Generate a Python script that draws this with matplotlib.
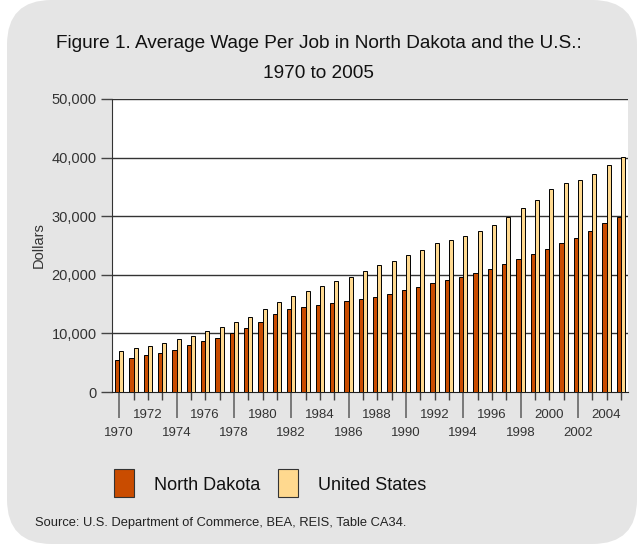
import matplotlib
matplotlib.use('Agg')
import matplotlib.pyplot as plt
from matplotlib.patches import FancyBboxPatch, Rectangle
import numpy as np

# Data
years = list(range(1970, 2006))
north_dakota = [5400, 5850, 6300, 6700, 7220, 7950, 8640, 9260, 10000, 10970,
                11930, 13240, 14090, 14430, 14770, 15110, 15450, 15800, 16190, 16650,
                17330, 17900, 18580, 19030, 19600, 20280, 20970, 21760, 22670, 23470,
                24380, 25400, 26310, 27440, 28810, 29890]
united_states = [6990, 7440, 7840, 8350, 8980, 9600, 10340, 11020, 11880, 12840,
                 14090, 15340, 16310, 17160, 18010, 18860, 19660, 20570, 21590, 22270,
                 23350, 24260, 25510, 25970, 26590, 27500, 28580, 29890, 31480, 32840,
                 34720, 35630, 36190, 37220, 38810, 40170]
yticks = [0, 10000, 20000, 30000, 40000, 50000]
lower_years = list(range(1970, 2006, 4))
upper_years = list(range(1972, 2006, 4))

nd_color = '#C94C00'
us_color = '#FFD98F'
bg = '#E5E5E5'
plt.rcParams['font.family'] = ['Liberation Sans', 'DejaVu Sans']

fig = plt.figure(figsize=(6.37, 5.44), dpi=100)
fig.patch.set_facecolor('white')

# rounded grey panel behind everything
panel = FancyBboxPatch((7 / 637, 0.0), 630 / 637, 1.0,
                       boxstyle='round,pad=0,rounding_size=0.07',
                       transform=fig.transFigure, facecolor=bg, edgecolor='none',
                       mutation_aspect=637 / 544, zorder=-10)
fig.patches.append(panel)

ax = fig.add_axes([112 / 637, 1 - 392 / 544, 516 / 637, 293 / 544])
ax.set_facecolor('white')

x = np.array(years)
w = 0.29
ax.bar(x - w / 2, north_dakota, width=w, color=nd_color, edgecolor='black', linewidth=0.7, zorder=3)
ax.bar(x + w / 2, united_states, width=w, color=us_color, edgecolor='black', linewidth=0.7, zorder=3)

ax.set_xlim(1969.5, 2005.5)
ax.set_ylim(0, 50000)
ax.set_yticks(yticks)
ax.set_yticklabels([f'{v:,}' for v in yticks], fontsize=10.5, color='#333333')
ax.tick_params(axis='y', length=8, width=1, color='#444444', pad=3)
for v in yticks[1:]:
    ax.axhline(v, color='#333333', linewidth=1, zorder=1)

ax.spines['right'].set_visible(False)
ax.spines['top'].set_visible(False)
ax.spines['left'].set_color('#333333')
ax.spines['bottom'].set_color('#222222')

# x ticks: long ticks with labels in lower row, short ticks for the rest
ax.set_xticks(lower_years)
ax.set_xticklabels([str(y) for y in lower_years], fontsize=9.5, color='#333333')
ax.tick_params(axis='x', which='major', length=19, width=1.2, color='#666666', pad=6)
minor = [y for y in years if y not in lower_years]
ax.set_xticks(minor, minor=True)
ax.set_xticklabels([str(y) if y in upper_years else '' for y in minor], minor=True,
                   fontsize=9.5, color='#333333')
ax.tick_params(axis='x', which='minor', length=6, width=1, color='#444444', pad=6.5)

ax.set_ylabel('Dollars', fontsize=10.5, color='#333333', labelpad=4)

fig.text(0.5, 1 - 44 / 544, 'Figure 1. Average Wage Per Job in North Dakota and the U.S.:',
         ha='center', va='center', fontsize=13.7, color='#111111')
fig.text(0.5, 1 - 74 / 544, '1970 to 2005', ha='center', va='center', fontsize=13.7, color='#111111')

# legend
for (lx, col, lab) in [(114, nd_color, 'North Dakota'), (278, us_color, 'United States')]:
    fig.patches.append(Rectangle((lx / 637, 1 - 497 / 544), 20 / 637, 28 / 544,
                                 transform=fig.transFigure, facecolor=col,
                                 edgecolor='#333333', linewidth=0.8))
    fig.text((lx + 40) / 637, 1 - 485 / 544, lab, ha='left', va='center',
             fontsize=13, color='#111111')

fig.text(35 / 637, 1 - 523 / 544, 'Source: U.S. Department of Commerce, BEA, REIS, Table CA34.',
         ha='left', va='center', fontsize=9.3, color='#222222')

fig.savefig('out.png', dpi=100, facecolor=fig.get_facecolor())
